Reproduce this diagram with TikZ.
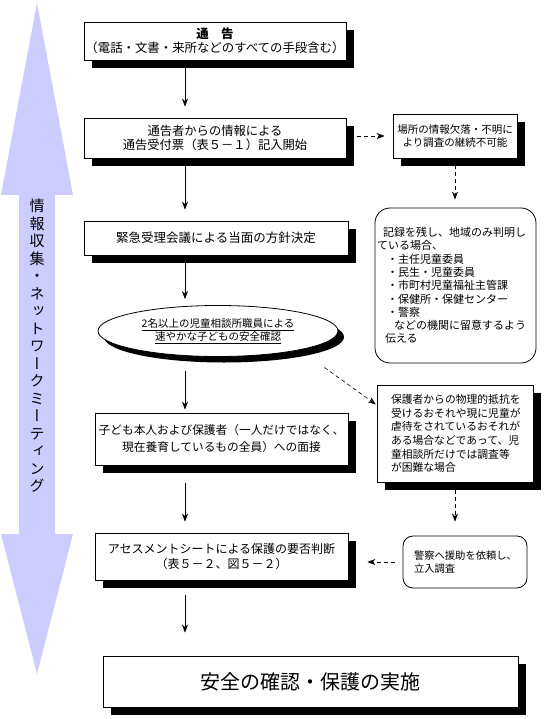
\documentclass[tikz,border=0pt]{standalone}
\usepackage{fontspec}
\setmainfont{Noto Sans CJK JP}
\newfontfamily\vertjp[RawFeature=+vert]{Noto Sans CJK JP}
\usepackage{tikz}
\usetikzlibrary{arrows.meta,shadows,shapes.geometric}

\definecolor{bandblue}{RGB}{204,204,255}
\newcommand{\fsz}[2]{\fontsize{#1}{#2}\selectfont}

\tikzset{
  box/.style={draw,line width=0.8pt,fill=white,inner sep=0pt,align=center,
    drop shadow={shadow xshift=8pt,shadow yshift=-8pt,fill=black,opacity=1}},
  roundbox/.style={draw,line width=0.8pt,fill=white,inner sep=0pt,align=left,
    rounded corners=#1},
  arr/.style={-{Stealth[length=8pt,width=6pt]},line width=0.6pt},
  darr/.style={arr,dash pattern=on 4pt off 3pt}
}

\begin{document}
\begin{tikzpicture}[x=1pt,y=-1pt]
\useasboundingbox (0,0) rectangle (543,719);

% Double arrow band
\fill[bandblue] (37,3) -- (73,195) -- (55,195) -- (55,534) -- (73,534) -- (37,674)
  -- (1,534) -- (19,534) -- (19,195) -- (1,195) -- cycle;
\node[align=center,inner sep=0pt,font=\vertjp\fsz{15}{17.5}] (band) at (37,346)
  {情\\報\\収\\集\\・\\ネ\\ッ\\ト\\ワ\\ー\\ク\\ミ\\ー\\テ\\ィ\\ン\\グ};

% Main column
\coordinate (spine) at (185,0);
\node[box,minimum width=262,minimum height=38,font=\fsz{12.4}{13.5}] (notice) at (215,41)
  {{\bfseries 通\hspace{1em}告}\\（電話・文書・来所などのすべての手段含む）};
\node[box,minimum width=262,minimum height=40,font=\fsz{12.3}{14}] (intake) at (215,138)
  {通告者からの情報による\\通告受付票（表５－１）記入開始};
\node[box,minimum width=264,minimum height=34,font=\fsz{12.5}{14}] (meeting) at (216,238)
  {緊急受理会議による当面の方針決定};
\node[draw,ellipse,line width=0.8pt,fill=white,inner sep=0pt,align=center,
  minimum width=240,minimum height=51,font=\fsz{10.5}{13},
  drop shadow={shadow xshift=6pt,shadow yshift=-6pt,fill=black,opacity=1}] (confirm) at (218,331)
  {\underline{2名以上の児童相談所職員による}\\\underline{速やかな子どもの安全確認}};
\node[box,minimum width=253,minimum height=52,font=\fsz{11.7}{17}] (interview) at (221.5,439)
  {子ども本人および保護者（一人だけではなく、\\現在養育しているもの全員）への面接};
\node[box,minimum width=253,minimum height=47,font=\fsz{12}{15}] (assess) at (221.5,556.5)
  {アセスメントシートによる保護の要否判断\\（表５－２、図５－２）};
\node[box,minimum width=415,minimum height=51,font=\fsz{20}{22}] (safety) at (310.5,681.5)
  {安全の確認・保護の実施};

% Side column
\node[box,minimum width=124,minimum height=44,font=\fsz{10.5}{12.5}] (unknown) at (455,136)
  {場所の情報欠落・不明に\\より調査の継続不可能};
\node[roundbox=15pt,minimum width=161,minimum height=155,text width=157,font=\fsz{11}{13.3}] (record) at (455.5,285.5)
  {\hspace*{6pt}記録を残し、地域のみ判明し\\
   ている場合、\\
   \hspace*{10pt}・主任児童委員\\
   \hspace*{10pt}・民生・児童委員\\
   \hspace*{10pt}・市町村児童福祉主管課\\
   \hspace*{10pt}・保健所・保健センター\\
   \hspace*{10pt}・警察\\
   \hspace*{17pt}などの機関に留意するよう\\
   \hspace*{8pt}伝える};
\node[box,align=left,minimum width=156,minimum height=97,text width=128,font=\fsz{10.8}{13.6}] (resist) at (455,433.5)
  {保護者からの物理的抵抗を\\受けるおそれや現に児童が\\虐待をされているおそれが\\ある場合などであって、児\\童相談所だけでは調査等\\が困難な場合};
\node[roundbox=10pt,minimum width=124,minimum height=52,text width=102,font=\fsz{10.3}{12.5}] (police) at (465,562)
  {警察へ援助を依頼し、\\立入調査};

% Solid arrows
\draw[arr,shorten >=11pt] (notice.south -| spine) -- (intake.north -| spine);
\draw[arr,shorten <=7pt,shorten >=11pt] (intake.south -| spine) -- (meeting.north -| spine);
\draw[arr,shorten >=6pt] (meeting.south -| spine) -- (confirm.north -| spine);
\draw[arr,shorten <=14pt,shorten >=3pt] (confirm.south -| spine) -- (interview.north -| spine);
\draw[arr,shorten <=18pt,shorten >=11pt] (interview.south -| spine) -- (assess.north -| spine);
\draw[arr,shorten <=15pt,shorten >=23pt] (assess.south -| spine) -- (safety.north -| spine);

% Dashed arrows
\draw[darr,shorten <=4pt,shorten >=8pt] (unknown.west -| intake.east) -- (unknown.west);
\draw[darr,shorten <=7pt,shorten >=8pt] (unknown.south) -- (unknown.south |- record.north);
\draw[darr,shorten <=30pt,shorten >=1pt] (confirm.-13) -- (resist.160);
\draw[darr,shorten <=8pt,shorten >=14pt] (resist.south) -- (resist.south |- police.north);
\draw[darr,shorten <=8pt,shorten >=19pt] (police.west) -- (police.west -| assess.east);
\end{tikzpicture}
\end{document}
